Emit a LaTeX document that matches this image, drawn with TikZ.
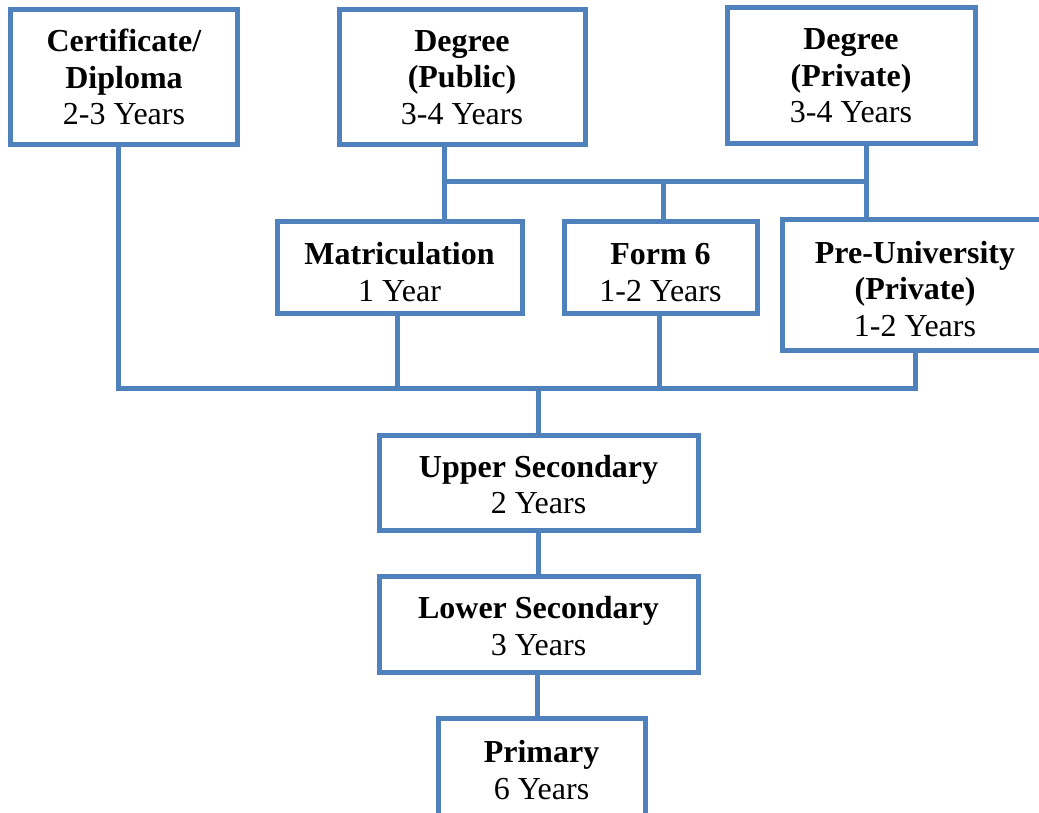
\documentclass[tikz,border=0pt]{standalone}
\usepackage{fontspec}
\setmainfont{Liberation Serif}
\definecolor{boxblue}{HTML}{4F81BD}
\newcommand\lowerby[1]{\rule{0pt}{#1}}
\begin{document}
\begin{tikzpicture}[x=1pt,y=-1pt,
  box/.style={draw=boxblue, line width=5pt, fill=white, align=center, inner sep=0pt,
    font=\fontsize{32}{36.5}\selectfont},
  conn/.style={draw=boxblue, line width=5pt}]
\useasboundingbox (0,0) rectangle (1039,813);
\clip (0,0) rectangle (1039,813);
% junction coordinates
\coordinate (barL) at (118,388);
\coordinate (barR) at (915,388);
\coordinate (barMid) at (538,388);
\coordinate (topL) at (444,182);
\coordinate (topR) at (866,182);
\coordinate (topF) at (663,182);
% boxes
\node[box, minimum width=227, minimum height=135] (cert) at (124,77) {\textbf{Certificate/}\\\textbf{Diploma}\\2-3 Years};
\node[box, minimum width=246, minimum height=135] (degpub) at (462,77.5) {\textbf{Degree}\\\textbf{(Public)}\\3-4 Years};
\node[box, minimum width=248, minimum height=136] (degpriv) at (851,76) {\textbf{Degree}\\\textbf{(Private)}\\3-4 Years};
\node[box, minimum width=245, minimum height=91] (matric) at (399.5,267.5) {\lowerby{31pt}\textbf{Matriculation}\\1 Year};
\node[box, minimum width=193, minimum height=91] (form6) at (660.5,267.5) {\lowerby{31pt}\textbf{Form 6}\\1-2 Years};
\node[box, minimum width=266, minimum height=130] (preu) at (915,285) {\lowerby{30pt}\textbf{Pre-University}\\\textbf{(Private)}\\1-2 Years};
\node[box, minimum width=319, minimum height=95] (upper) at (538.5,482.5) {\lowerby{26pt}\textbf{Upper Secondary}\\2 Years};
\node[box, minimum width=319, minimum height=96] (lower) at (538.5,624) {\lowerby{26pt}\textbf{Lower Secondary}\\3 Years};
\node[box, minimum width=207, minimum height=100] (primary) at (541.5,768) {\lowerby{26pt}\textbf{Primary}\\6 Years};
% upper connectors
\draw[conn] (degpub.south -| topL) -- (matric.north -| topL);
\draw[conn] (degpriv.south -| topR) -- (preu.north -| topR);
\draw[conn] (topL) -- (topR);
\draw[conn] (topF) -- (form6.north -| topF);
% lower connectors
\draw[conn] (cert.south -| barL) -- (barL) -- (barR) -- (preu.south -| barR);
\draw[conn] (matric.south -| 397,0) -- (397,388);
\draw[conn] (form6.south -| 659,0) -- (659,388);
\draw[conn] (barMid) -- (upper.north -| barMid);
\draw[conn] (upper.south -| barMid) -- (lower.north -| barMid);
\draw[conn] (lower.south -| 537,0) -- (primary.north -| 537,0);
\end{tikzpicture}
\end{document}
